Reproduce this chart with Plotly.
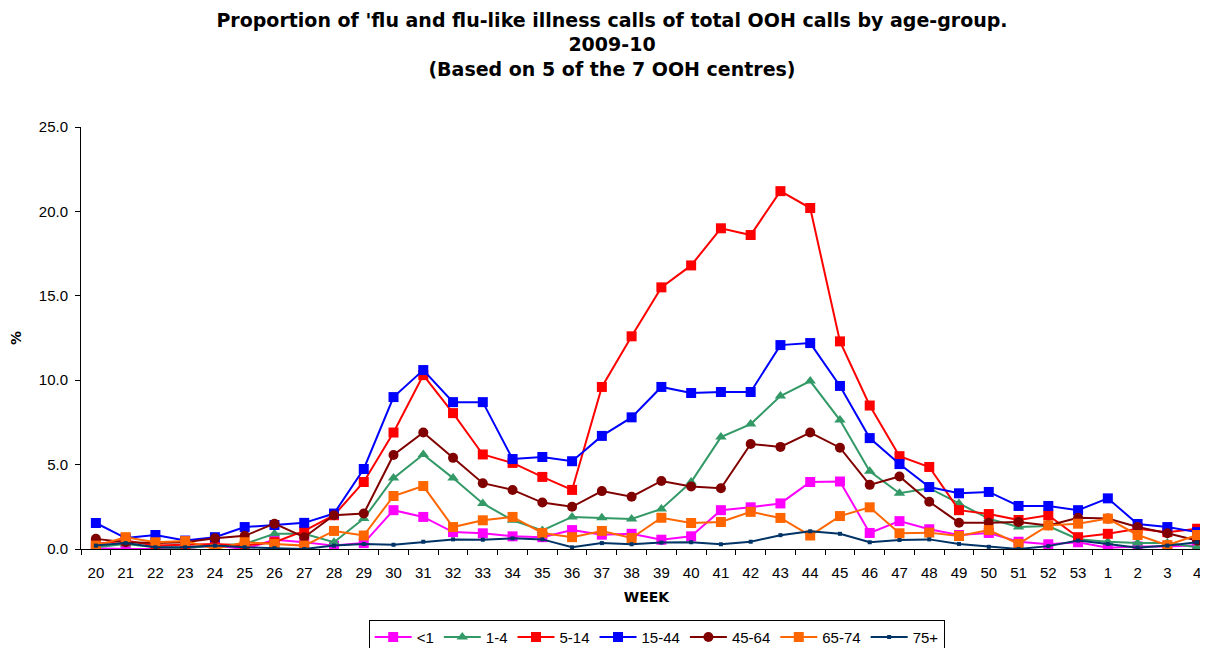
import plotly.graph_objects as go


# ==========================================================
# DATA
# ==========================================================

WEEKS = [str(w) for w in range(20, 54)] + ["1", "2", "3", "4"]

LT1 = [0.05, 0.0, 0.0, 0.05, 0.2, 0.0, 0.55, 0.4, 0.2, 0.35,
       2.3, 1.9, 1.0, 0.93, 0.75, 0.7, 1.12, 0.85, 0.9, 0.55,
       0.75, 2.3, 2.47, 2.7, 3.97, 4.0, 0.95, 1.65, 1.17, 0.83,
       0.95, 0.43, 0.28, 0.4, 0.07, 0.15, 0.15, 0.22]

AGE_1_4 = [0.1, 0.3, 0.1, 0.05, 0.2, 0.3, 0.9, 0.9, 0.4, 1.8,
           4.2, 5.6, 4.2, 2.7, 1.7, 1.1, 1.9, 1.85, 1.78, 2.37,
           3.97, 6.63, 7.4, 9.06, 9.95, 7.64, 4.6, 3.3, 3.6, 2.7,
           1.8, 1.3, 1.36, 0.58, 0.43, 0.35, 0.35, 0.1]

AGE_5_14 = [0.3, 0.5, 0.2, 0.25, 0.3, 0.2, 0.4, 1.07, 2.0, 3.97,
            6.9, 10.3, 8.05, 5.6, 5.1, 4.27, 3.5, 9.6, 12.6, 15.5,
            16.8, 19.0, 18.6, 21.2, 20.2, 12.3, 8.5, 5.5, 4.86, 2.3,
            2.07, 1.72, 2.0, 0.7, 0.9, 1.2, 1.0, 1.2]

AGE_15_44 = [1.54, 0.65, 0.83, 0.5, 0.7, 1.3, 1.42, 1.55, 2.1, 4.74,
             9.0, 10.6, 8.7, 8.7, 5.33, 5.45, 5.2, 6.7, 7.8, 9.6,
             9.24, 9.3, 9.3, 12.08, 12.2, 9.66, 6.57, 5.03, 3.67, 3.3,
             3.38, 2.55, 2.55, 2.3, 3.0, 1.48, 1.3, 1.0]

AGE_45_64 = [0.6, 0.4, 0.35, 0.4, 0.64, 0.78, 1.5, 0.7, 2.0, 2.1,
             5.57, 6.9, 5.4, 3.9, 3.5, 2.75, 2.5, 3.43, 3.1, 4.03,
             3.7, 3.6, 6.22, 6.05, 6.9, 6.0, 3.8, 4.3, 2.8, 1.56,
             1.56, 1.6, 1.4, 1.85, 1.8, 1.3, 0.93, 0.5]

AGE_65_74 = [0.2, 0.7, 0.4, 0.47, 0.0, 0.4, 0.3, 0.2, 1.07, 0.8,
             3.14, 3.73, 1.3, 1.7, 1.9, 0.95, 0.7, 1.07, 0.65, 1.85,
             1.54, 1.6, 2.2, 1.84, 0.8, 1.95, 2.47, 0.93, 0.97, 0.77,
             1.12, 0.3, 1.4, 1.5, 1.8, 0.83, 0.23, 0.83]

AGE_75 = [0.2, 0.35, 0.1, 0.1, 0.2, 0.1, 0.05, 0.0, 0.2, 0.3,
          0.25, 0.43, 0.57, 0.55, 0.63, 0.57, 0.1, 0.35, 0.28, 0.38,
          0.4, 0.28, 0.43, 0.82, 1.05, 0.9, 0.4, 0.53, 0.57, 0.3,
          0.13, 0.0, 0.17, 0.5, 0.3, 0.08, 0.2, 0.4]


# ==========================================================
# SERIES STYLE
# ==========================================================

FONT = "Liberation Sans, Arial, sans-serif"

WIDE_FONT = "DejaVu Sans, Arial, sans-serif"

SERIES = [
    ("<1", LT1, "#FF00FF", "square", 10),
    ("1-4", AGE_1_4, "#339966", "triangle-up", 10),
    ("5-14", AGE_5_14, "#FF0000", "square", 10),
    ("15-44", AGE_15_44, "#0000FF", "square", 10),
    ("45-64", AGE_45_64, "#800000", "circle", 10),
    ("65-74", AGE_65_74, "#FF6600", "square", 10),
    ("75+", AGE_75, "#003366", "square", 4),
]


# ==========================================================
# FIGURE
# ==========================================================

fig = go.Figure()

for name, values, colour, symbol, size in SERIES:

    fig.add_trace(
        go.Scatter(
            x=WEEKS,
            y=values,
            name=name,
            mode="lines+markers",
            line=dict(color=colour, width=2),
            marker=dict(color=colour, symbol=symbol, size=size)
        )
    )

fig.update_layout(

    width=1208,
    height=648,

    title=dict(
        text="Proportion of 'flu and flu-like illness calls of total OOH calls by age-group.<br>"
             "2009-10<br>(Based on 5 of the 7 OOH centres)",
        x=0.5,
        xanchor="center",
        y=0.971,
        yanchor="top",
        font=dict(family=WIDE_FONT, size=19, color="black", weight="bold")
    ),

    paper_bgcolor="white",
    plot_bgcolor="white",

    font=dict(family=FONT, color="black", size=15),

    # page body adds an 8px offset, so margins are shifted to match
    margin=dict(l=73, r=4, t=119, b=107, autoexpand=False),

    showlegend=True,

    legend=dict(
        orientation="h",
        xref="container",
        yref="container",
        x=0.537,
        xanchor="center",
        y=0.056,
        yanchor="top",
        bordercolor="black",
        borderwidth=1,
        font=dict(size=15),
        itemwidth=37,
        tracegroupgap=0
    )
)

fig.update_xaxes(
    type="category",
    range=[-0.5, len(WEEKS) - 0.5],
    showline=True,
    linecolor="black",
    linewidth=1,
    ticks="outside",
    tickson="boundaries",
    ticklen=5,
    tickcolor="black",
    ticklabelstandoff=10,
    showgrid=False,
    zeroline=False,
    automargin=False,
    title=dict(text="<b>WEEK</b>", font=dict(family=WIDE_FONT, size=14), standoff=12)
)

fig.update_yaxes(
    range=[0, 25],
    dtick=5,
    tickformat=".1f",
    showline=True,
    linecolor="black",
    linewidth=1,
    ticks="outside",
    ticklen=5,
    tickcolor="black",
    ticklabelstandoff=4,
    showgrid=False,
    zeroline=False,
    automargin=False,
    title=dict(text="<b>%</b>", font=dict(family=WIDE_FONT, size=14), standoff=28)
)

fig.write_html("out.html")
